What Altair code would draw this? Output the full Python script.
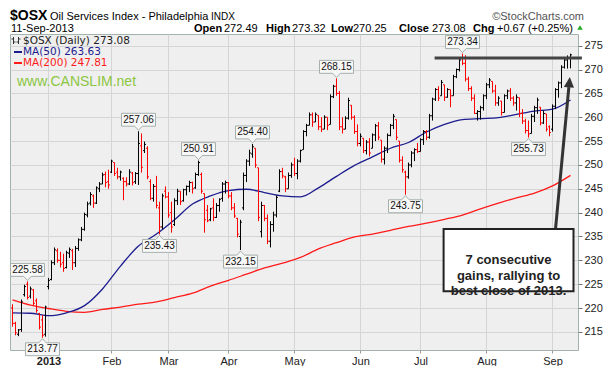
import altair as alt
import pandas as pd

# ---------------- values ----------------
month_labels = ["2013", "Feb", "Mar", "Apr", "May", "Jun", "Jul", "Aug", "Sep"]
bars_per_month = [12, 21, 19, 20, 22, 22, 20, 22, 22, 7]   # Dec-2012 ... Sep-2013

opens = [
    220.0, 216.8, 214.5, 215.5, 222.8, 225.0, 222.5, 223.8, 221.5, 218.8, 217.5, 214.5,
    224.5, 226.0, 229.5, 232.0, 230.0, 229.5, 228.5, 231.5, 232.0, 229.5, 232.5, 234.3, 236.5, 239.5, 242.0, 243.5, 242.0, 245.0, 246.0, 248.0, 246.5,
    248.5, 250.5, 248.5, 247.5, 247.2, 246.5, 246.0, 248.3, 246.5, 248.2, 254.0, 253.0, 253.5, 246.5, 243.0, 245.5, 241.0, 237.0, 244.5,
    243.3, 240.0, 237.5, 242.5, 244.5, 242.5, 244.8, 245.5, 246.3, 245.2, 248.0, 248.0, 244.0, 240.5, 238.5, 241.0, 239.0, 241.5, 243.0, 246.0,
    246.3, 243.5, 241.0, 238.8, 235.0, 241.0, 247.8, 250.8, 252.3, 253.5, 249.4, 236.0, 241.5, 238.8, 234.0, 237.5, 239.5, 244.5, 248.6, 247.5, 245.0, 247.8,
    250.0, 248.2, 250.8, 253.2, 257.0, 258.3, 260.5, 259.0, 260.4, 258.0, 257.5, 260.0, 258.5, 264.3, 266.5, 265.0, 258.0, 257.5, 259.8, 262.5, 260.0, 257.0,
    254.5, 255.6, 253.0, 254.8, 253.5, 256.3, 258.2, 255.2, 251.2, 253.5, 256.2, 258.3, 259.5, 255.0, 251.0, 248.5, 247.5, 250.0, 252.5, 253.2,
    252.8, 255.3, 257.0, 255.8, 260.3, 263.8, 265.8, 264.5, 266.8, 264.2, 265.8, 264.5, 268.5, 270.0, 272.5, 271.3, 268.0, 266.0, 264.0, 260.8, 261.2, 262.0,
    264.5, 266.8, 267.5, 265.5, 263.0, 263.4, 261.0, 264.5, 265.5, 264.0, 263.0, 264.1, 260.8, 259.2, 257.2, 256.6, 260.2, 262.0, 262.1, 258.8, 260.7, 258.0,
    257.5, 262.3, 265.8, 267.2, 270.5, 272.0, 272.49,
]
highs = [
    220.8, 217.1, 215.6, 221.8, 224.9, 225.58, 224.5, 224.0, 222.0, 219.0, 218.5, 220.5,
    226.3, 230.0, 232.7, 232.5, 231.8, 231.4, 232.0, 232.7, 232.4, 233.0, 234.6, 237.0, 240.0, 242.3, 244.3, 243.8, 245.5, 246.4, 248.4, 248.6, 249.0,
    251.1, 250.5, 249.4, 248.8, 247.4, 247.4, 249.1, 248.5, 248.5, 257.06, 256.6, 254.9, 253.9, 247.0, 246.0, 247.7, 242.3, 244.0, 245.5,
    244.3, 242.3, 243.0, 245.0, 244.5, 245.0, 245.7, 246.7, 246.5, 248.4, 250.91, 248.4, 244.0, 241.6, 241.0, 243.0, 242.0, 243.0, 246.4, 246.7,
    246.4, 244.3, 242.0, 238.9, 238.5, 248.4, 251.2, 253.2, 254.40, 253.5, 249.4, 242.3, 241.6, 239.6, 238.2, 240.2, 243.6, 249.1, 249.4, 247.7, 248.4, 250.5,
    251.5, 251.2, 253.2, 257.3, 258.6, 261.0, 261.0, 261.0, 260.4, 260.0, 260.4, 260.0, 264.8, 266.8, 268.15, 265.5, 260.0, 260.2, 264.1, 262.5, 260.4, 258.5,
    256.6, 255.6, 255.2, 255.6, 256.6, 258.6, 259.0, 255.2, 253.9, 256.6, 258.6, 260.7, 259.5, 255.0, 251.8, 248.8, 250.5, 252.9, 253.5, 254.6,
    255.6, 257.3, 257.3, 260.7, 264.1, 266.1, 266.5, 267.8, 266.8, 266.1, 265.8, 268.9, 270.2, 272.3, 273.34, 273.0, 268.5, 266.5, 264.8, 261.5, 262.4, 264.8,
    267.2, 268.2, 267.5, 266.8, 264.4, 263.4, 264.8, 265.8, 266.1, 264.4, 264.8, 264.1, 261.7, 259.7, 259.3, 260.7, 262.4, 264.1, 262.1, 261.4, 260.7, 258.3,
    262.7, 266.1, 267.5, 270.9, 272.3, 272.96, 273.32,
]
lows = [
    216.1, 214.3, 214.1, 215.0, 222.4, 221.8, 222.0, 220.5, 219.0, 215.5, 213.77, 214.0,
    223.9, 225.8, 229.0, 229.5, 228.5, 227.6, 228.3, 230.5, 228.0, 228.6, 232.0, 234.0, 236.2, 239.0, 241.5, 241.0, 241.8, 244.3, 246.0, 245.3, 245.0,
    248.3, 247.7, 247.0, 246.7, 242.6, 245.5, 245.8, 245.7, 246.0, 245.8, 248.4, 252.5, 247.0, 242.6, 242.3, 240.9, 235.43, 236.5, 243.0,
    238.9, 235.8, 237.2, 241.6, 241.6, 242.3, 243.6, 244.3, 244.0, 245.0, 247.7, 244.0, 235.8, 238.0, 238.2, 238.2, 238.9, 240.2, 242.3, 244.0,
    243.0, 240.5, 238.9, 234.8, 232.15, 240.5, 246.4, 249.8, 251.5, 249.4, 238.2, 234.8, 238.2, 233.4, 232.7, 236.0, 239.0, 244.3, 247.2, 244.3, 245.0, 247.3,
    247.7, 247.0, 250.5, 253.2, 256.0, 258.3, 258.0, 259.0, 257.3, 256.9, 257.5, 257.3, 258.5, 264.0, 264.5, 257.3, 256.6, 257.5, 259.5, 259.5, 256.5, 253.9,
    253.9, 252.5, 252.2, 251.8, 253.5, 255.0, 255.2, 250.5, 250.1, 252.5, 256.0, 257.5, 255.2, 250.5, 248.4, 243.75, 247.1, 249.5, 250.8, 252.5,
    252.8, 254.2, 255.2, 255.5, 259.3, 263.4, 263.4, 264.5, 263.4, 264.1, 262.1, 264.5, 268.2, 269.6, 270.9, 267.5, 265.5, 263.4, 260.7, 259.3, 259.5, 261.4,
    263.8, 266.1, 265.1, 262.4, 262.4, 260.35, 261.0, 263.8, 263.4, 262.4, 261.4, 260.0, 258.6, 256.6, 255.73, 256.6, 259.0, 260.7, 258.3, 258.6, 257.0, 256.0,
    257.0, 261.7, 264.1, 266.1, 270.2, 270.2, 270.25,
]
closes = [
    216.8, 214.8, 215.4, 221.3, 224.5, 222.2, 224.0, 221.0, 219.5, 216.0, 214.3, 220.2,
    225.8, 229.5, 232.2, 230.0, 229.2, 228.3, 231.6, 232.3, 229.5, 232.5, 234.3, 236.5, 239.6, 241.8, 243.8, 242.0, 245.2, 246.0, 247.9, 246.3, 245.8,
    250.8, 248.2, 247.5, 248.5, 246.5, 246.0, 248.5, 246.3, 248.2, 254.5, 249.5, 254.3, 247.5, 243.0, 245.5, 241.5, 237.0, 243.5, 243.3,
    239.5, 237.0, 242.5, 244.5, 242.3, 244.8, 245.5, 246.3, 245.0, 248.0, 250.5, 244.5, 238.5, 238.3, 240.8, 239.0, 241.5, 242.8, 246.0, 246.3,
    243.5, 241.0, 239.3, 235.5, 238.0, 247.8, 250.8, 252.5, 253.8, 250.0, 239.0, 241.5, 238.8, 234.0, 237.5, 239.5, 243.2, 248.6, 247.7, 245.0, 247.8, 250.0,
    248.2, 250.8, 253.0, 257.0, 258.3, 260.5, 259.0, 260.6, 258.0, 257.5, 260.0, 258.3, 264.3, 266.5, 265.0, 258.0, 257.5, 259.8, 263.5, 260.0, 257.0, 254.5,
    256.0, 253.0, 254.8, 252.5, 256.3, 258.2, 255.8, 251.2, 253.5, 256.2, 258.3, 260.2, 255.8, 251.0, 249.0, 247.5, 250.0, 252.5, 253.2, 252.8,
    255.3, 257.0, 255.8, 260.3, 263.8, 265.8, 264.0, 267.3, 264.2, 265.8, 264.5, 268.5, 270.0, 272.0, 271.3, 268.0, 266.0, 264.0, 260.8, 261.2, 262.0, 264.5,
    266.8, 267.8, 265.5, 263.0, 264.0, 261.0, 264.5, 265.5, 264.0, 263.0, 264.2, 260.8, 259.2, 257.2, 256.5, 260.2, 262.0, 263.6, 258.8, 260.8, 257.5, 256.8,
    262.3, 265.8, 267.2, 270.5, 272.0, 272.41, 273.08,
]

ma_every = 6   # moving averages read every 6th trading day
ma50 = [219.0, 218.9, 218.4, 219.0, 220.5, 224.0, 228.8, 233.0, 235.5, 238.5, 241.8, 243.5,
        244.6, 244.9, 244.2, 243.5, 243.3, 245.2, 247.6, 249.9, 251.7, 253.5, 254.7, 256.9,
        258.5, 259.5, 259.7, 259.9, 260.6, 261.3, 261.7, 263.63]
ma200 = [221.7, 220.6, 219.9, 219.3, 219.1, 219.7, 220.2, 220.8, 221.3, 222.2, 223.1, 224.6,
         225.8, 227.1, 228.4, 229.4, 230.6, 232.4, 233.7, 234.9, 235.5, 236.3, 237.1, 237.8,
         238.6, 239.5, 240.8, 242.0, 243.1, 244.1, 245.6, 247.81]

marked_highs = [5, 42, 62, 80, 108, 150]
marked_lows = [10, 49, 76, 131, 172]
resistance_level = 272.4
resistance_days = [140.7, 189.8]
callout_text = "7 consecutive\ngains, rallying to\nbest close of 2013."
callout_days = [143.7, 187.0]
callout_levels = [223.5, 236.55]
arrow_days = [181.0, 185.45]
arrow_levels = [236.55, 266.3]

# ---------------- tables ----------------
n = len(closes)
bars = pd.DataFrame({"day": list(range(n)), "open": opens, "high": highs,
                     "low": lows, "close": closes})
prev = bars["close"].shift(1)
bars["dir"] = ["down" if (i == 0 or c < p) else "up"
               for i, (c, p) in enumerate(zip(bars["close"], prev))]
bars["tick_l"] = bars["day"] - 0.5
bars["tick_r"] = bars["day"] + 0.5

starts = [sum(bars_per_month[:k + 1]) for k in range(len(month_labels))]
expr = "''"
for s, lab in reversed(list(zip(starts, month_labels))):
    expr = f"datum.value == {s} ? '{lab}' : ({expr})"

ma_df = pd.DataFrame({"day": list(range(0, n, ma_every)), "ma50": ma50, "ma200": ma200})

ann_hi = pd.DataFrame({"day": marked_highs, "value": [highs[d] for d in marked_highs]})
ann_hi["label"] = ann_hi["value"].map(lambda v: f"{v:.2f}")
ann_lo = pd.DataFrame({"day": marked_lows, "value": [lows[d] for d in marked_lows]})
ann_lo["label"] = ann_lo["value"].map(lambda v: f"{v:.2f}")

# ---------------- scales / axes ----------------
FONT = "Liberation Sans"
xscale = alt.Scale(domain=[-0.8333, 188.5], nice=False, zero=False)
yscale = alt.Scale(domain=[211.2, 277.45], nice=False, zero=False)
xaxis = alt.Axis(values=starts, labelExpr=expr, grid=True, gridColor="#d5d5d5",
                 domain=False, ticks=True, tickSize=3, tickColor="#999",
                 labelFontSize=11, labelColor="#222", labelFont=FONT, labelPadding=2,
                 labelFontWeight={"condition": {"test": f"datum.value == {starts[0]}", "value": "bold"},
                                  "value": "normal"},
                 labelOverlap=False, labelFlush=False, title=None)
yaxis = alt.Axis(orient="right", values=list(range(215, 276, 5)), grid=True,
                 gridColor="#d5d5d5", domain=False, tickSize=4, tickColor="#777",
                 labelFontSize=11, labelColor="#222", labelFont=FONT, labelPadding=2,
                 title=None)


def X(field="day"):
    return alt.X(f"{field}:Q", scale=xscale, axis=xaxis, title=None)


def Y(field):
    return alt.Y(f"{field}:Q", scale=yscale, axis=yaxis, title=None)


color = alt.Color("dir:N", scale=alt.Scale(domain=["up", "down"], range=["#000000", "#ff0000"]),
                  legend=None)

ma200_line = alt.Chart(ma_df).mark_line(color="#ff1a1a", strokeWidth=1.3, interpolate="monotone").encode(
    x=X(), y=Y("ma200"))
ma50_line = alt.Chart(ma_df).mark_line(color="#1c1c8f", strokeWidth=1.3, interpolate="monotone").encode(
    x=X(), y=Y("ma50"))

hl = alt.Chart(bars).mark_rule(strokeWidth=1).encode(x=X(), y=Y("low"), y2="high:Q", color=color)
op = alt.Chart(bars).mark_rule(strokeWidth=1).encode(x=X("tick_l"), x2="day:Q", y=Y("open"), color=color)
cl = alt.Chart(bars).mark_rule(strokeWidth=1).encode(x=X("day"), x2="tick_r:Q", y=Y("close"), color=color)

path_above = "M-1,-0.38H1V0.38H0.22L0,0.62L-0.22,0.38H-1Z"
path_below = "M-1,-0.38H-0.22L0,-0.62L0.22,-0.38H1V0.38H-1Z"
box_hi = alt.Chart(ann_hi).mark_point(shape=path_above, size=1156, filled=True, fill="#f7f7f7",
                                      stroke="#a5b0ad", strokeWidth=1, opacity=1, yOffset=-11.5).encode(
    x=X(), y=Y("value"))
txt_hi = alt.Chart(ann_hi).mark_text(dy=-11.5, fontSize=10, font=FONT, color="#111",
                                     baseline="middle").encode(x=X(), y=Y("value"), text="label:N")
box_lo = alt.Chart(ann_lo).mark_point(shape=path_below, size=1156, filled=True, fill="#f7f7f7",
                                      stroke="#a5b0ad", strokeWidth=1, opacity=1, yOffset=11.5).encode(
    x=X(), y=Y("value"))
txt_lo = alt.Chart(ann_lo).mark_text(dy=11.5, fontSize=10, font=FONT, color="#111",
                                     baseline="middle").encode(x=X(), y=Y("value"), text="label:N")

res_df = pd.DataFrame({"d1": [resistance_days[0]], "d2": [resistance_days[1]], "v": [resistance_level]})
resistance = alt.Chart(res_df).mark_rule(color="#444444", strokeWidth=3).encode(
    x=X("d1"), x2="d2:Q", y=Y("v"))

cb_df = pd.DataFrame({"d1": [callout_days[0]], "d2": [callout_days[1]],
                      "v1": [callout_levels[0]], "v2": [callout_levels[1]]})
callout_box = alt.Chart(cb_df).mark_rect(fill="white", stroke="#222222", strokeWidth=2,
                                         opacity=1).encode(
    x=X("d1"), x2="d2:Q", y=Y("v1"), y2="v2:Q")
ct_df = pd.DataFrame({"day": [sum(callout_days) / 2], "v": [sum(callout_levels) / 2],
                      "t": [callout_text]})
callout_txt = alt.Chart(ct_df).mark_text(lineBreak="\n", lineHeight=15.5, fontSize=13,
                                         fontWeight="bold", font=FONT, color="#222",
                                         align="center", baseline="middle").encode(
    x=X(), y=Y("v"), text="t:N")

ar_df = pd.DataFrame({"d1": [arrow_days[0]], "d2": [arrow_days[1]],
                      "v1": [arrow_levels[0]], "v2": [arrow_levels[1]]})
arrow = alt.Chart(ar_df).mark_rule(color="#333333", strokeWidth=3).encode(
    x=X("d1"), x2="d2:Q", y=Y("v1"), y2="v2:Q")
ah_df = pd.DataFrame({"day": [arrow_days[1] + 0.15], "v": [arrow_levels[1] + 0.9]})
arrow_head = alt.Chart(ah_df).mark_point(shape="M0,-1L0.85,0.75L-0.85,0.75Z", size=144, filled=True,
                                         color="#333333", opacity=1, angle=5).encode(
    x=X(), y=Y("v"))

one = pd.DataFrame({"k": [0]})


def txt(s, x, y, size, color="#000", weight="normal", font=FONT, align="left",
        baseline="alphabetic"):
    return alt.Chart(pd.DataFrame({"t": [s]})).mark_text(
        align=align, baseline=baseline, fontSize=size, fontWeight=weight, font=font,
        color=color).encode(x=alt.value(x), y=alt.value(y), text="t:N")


def seg(x1, x2, y, col, w=2):
    return alt.Chart(one).mark_rule(color=col, strokeWidth=w).encode(
        x=alt.value(x1), x2=alt.value(x2), y=alt.value(y))


def vseg(x, y1, y2, col, w=1):
    return alt.Chart(one).mark_rule(color=col, strokeWidth=w).encode(
        x=alt.value(x), y=alt.value(y1), y2=alt.value(y2))


header = [
    txt("$OSX", 0, -14, 14, weight="bold"),
    txt("Oil Services Index - Philadelphia", 40, -14, 11),
    txt("INDX", 201, -14, 10),
    txt("\u00a9StockCharts.com", 574, -14, 11, color="#555", align="right"),
    txt("11-Sep-2013", 1, -2.5, 11),
    txt("Open", 184, -2.5, 11, weight="bold"),
    txt("272.49", 214, -2.5, 11),
    txt("High", 256, -2.5, 11, weight="bold"),
    txt("273.32", 282, -2.5, 11),
    txt("Low", 321, -2.5, 11, weight="bold"),
    txt("270.25", 343, -2.5, 11),
    txt("Close", 389, -2.5, 11, weight="bold"),
    txt("273.08", 422, -2.5, 11),
    txt("Chg", 463, -2.5, 11, weight="bold"),
    txt("+0.67 (+0.25%)", 487, -2.5, 11),
    alt.Chart(one).mark_point(shape="triangle-up", size=30, filled=True, color="#22aa22",
                              opacity=1).encode(x=alt.value(570), y=alt.value(-6.5)),
]

legend = [
    vseg(3.5, 3, 10, "#333"), seg(1.5, 3.5, 5, "#333", 1), seg(3.5, 5.5, 8, "#333", 1),
    vseg(8.5, 3, 10, "#333"), seg(6.5, 8.5, 8, "#333", 1), seg(8.5, 10.5, 5, "#333", 1),
    txt("$OSX (Daily) 273.08", 13, 7, 10.5, color="#222", font="DejaVu Sans", baseline="middle"),
    seg(4, 12, 18, "#1c1c8f"),
    txt("MA(50) 263.63", 13, 18, 10.5, color="#1c1c8f", font="DejaVu Sans", baseline="middle"),
    seg(4, 12, 29, "#ff1a1a"),
    txt("MA(200) 247.81", 13, 29, 10.5, color="#ff1a1a", font="DejaVu Sans", baseline="middle"),
    txt("www.CANSLIM.net", 7, 48, 14, color="#8cc63f", baseline="middle"),
]

chart = alt.layer(
    ma200_line, ma50_line, hl, op, cl, resistance,
    box_hi, txt_hi, box_lo, txt_lo,
    arrow, arrow_head, callout_box, callout_txt,
    *legend, *header,
).properties(
    width=568, height=316,
    padding={"left": 2, "top": 26, "right": 26, "bottom": 16},
    autosize="none", background="white",
).configure_view(fill="#efefef", stroke="#a2b2ad", strokeWidth=1)

chart.save("out.html", embed_options={"renderer": "svg", "actions": False})
